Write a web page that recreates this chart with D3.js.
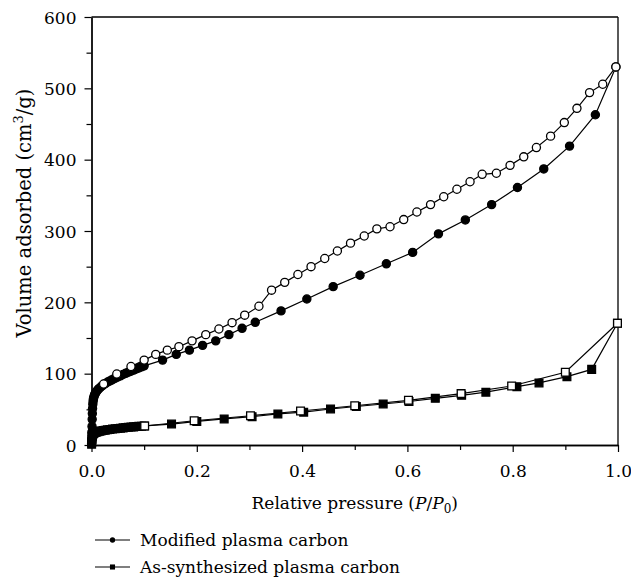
<!DOCTYPE html>
<html>
<head>
<meta charset="utf-8">
<script src="https://cdn.jsdelivr.net/npm/d3@7"></script>
<style>
  body { margin: 0; background: #fff; }
  svg text { font-family: 'DejaVu Serif', 'Liberation Serif', serif; fill: #000; }
</style>
</head>
<body>
<script>
// modified plasma carbon, adsorption branch (filled circles)
var modAdsX = [0.0002, 0.0005, 0.0008, 0.001, 0.0013, 0.0016, 0.002, 0.0025, 0.003, 0.0035, 0.004, 0.005, 0.006, 0.007, 0.008,
  0.01, 0.012, 0.014, 0.017, 0.02, 0.023, 0.026, 0.03, 0.034, 0.038, 0.042, 0.046, 0.05, 0.055, 0.06, 0.065, 0.07, 0.075,
  0.08, 0.085, 0.09, 0.095, 0.1, 0.135, 0.161, 0.186, 0.211, 0.236, 0.261, 0.286, 0.311, 0.36, 0.409, 0.459, 0.51, 0.56,
  0.61, 0.659, 0.71, 0.76, 0.809, 0.859, 0.908, 0.957, 0.996];
var modAdsY = [2, 8, 18, 26, 36, 44, 51, 57, 61, 64, 66, 68.5, 70.5, 72, 73.5,
  75.5, 77.5, 79, 81, 83, 84.5, 86, 88, 89.5, 91, 92.5, 94, 95.5, 97, 99, 100.5, 102, 103.5,
  105, 106.5, 108, 109.5, 111, 119, 127, 133, 139.7, 146, 154.7, 163.6, 172, 188, 204.7, 222, 238, 254,
  270, 296, 315.5, 337, 361, 387, 419, 463, 530];

// modified plasma carbon, desorption branch (open circles)
var modDesX = [0.996, 0.971, 0.946, 0.922, 0.898, 0.872, 0.845, 0.821, 0.795, 0.769, 0.742, 0.719, 0.694, 0.669, 0.644,
  0.618, 0.593, 0.567, 0.542, 0.518, 0.492, 0.467, 0.443, 0.417, 0.392, 0.367, 0.342, 0.318, 0.291, 0.267, 0.242,
  0.217, 0.191, 0.166, 0.144, 0.122, 0.1, 0.075, 0.048, 0.023];
var modDesY = [530, 505.7, 494, 472, 452, 433, 417, 404, 392, 381, 379.5, 369, 358.5, 348, 337,
  326.6, 316, 306, 303, 293, 283, 272, 261.5, 250, 239, 228, 217, 194.5, 182, 171.5, 162.6,
  154.7, 146, 137.8, 133, 127, 119, 110, 99.5, 85.5];

// as-synthesized plasma carbon, adsorption branch (filled squares)
var asAdsX = [0.0002, 0.0005, 0.0008, 0.001, 0.0013, 0.0017, 0.002, 0.003, 0.004, 0.005, 0.007, 0.009, 0.012, 0.015,
  0.018, 0.022, 0.026, 0.03, 0.035, 0.04, 0.045, 0.05, 0.055, 0.06, 0.065, 0.07, 0.075, 0.08, 0.085, 0.09, 0.095, 0.1,
  0.152, 0.2, 0.252, 0.305, 0.354, 0.403, 0.454, 0.503, 0.554, 0.603, 0.653, 0.703, 0.749, 0.808, 0.85, 0.903, 0.95, 0.999];
var asAdsY = [1, 4, 8, 10, 12, 13.5, 14.5, 15.5, 16.2, 16.8, 17.5, 18, 18.6, 19.2,
  19.7, 20.3, 20.8, 21.3, 21.8, 22.3, 22.8, 23.2, 23.6, 24, 24.4, 24.8, 25.1, 25.4, 25.8, 26.1, 26.4, 26.7,
  29.4, 33, 36.5, 39.7, 43.5, 46, 50.5, 54, 57.5, 61, 65.4, 69.6, 74, 81.8, 87, 95.8, 106, 170.6];

// as-synthesized plasma carbon, desorption branch (open squares)
var asDesX = [0.999, 0.9, 0.798, 0.702, 0.602, 0.5, 0.397, 0.302, 0.195, 0.101];
var asDesY = [170.6, 102, 82.7, 72, 62.6, 55, 47.7, 41, 34, 26.6];

var xTicks = [0, 0.2, 0.4, 0.6, 0.8, 1.0];
var yTicks = [0, 100, 200, 300, 400, 500, 600];
var legendNames = ['Modified plasma carbon', 'As-synthesized plasma carbon'];

(function() {
  var w = 631;
  var h = 577;
  var left = 91.5;
  var right = 618;
  var top = 17;
  var bottom = 445;

  var svg = d3
    .select('body')
    .append('svg')
    .attr('width', w)
    .attr('height', h);

  var xScale = d3.scaleLinear().domain([0, 1]).range([left, right]);
  var yScale = d3.scaleLinear().domain([0, 600]).range([bottom, top]);

  const zip = (xs, ys) => xs.map((x, i) => ({ x: x, y: ys[i] }));

  // axes, minor ticks drawn as separate tick-only axes
  var xAxis = d3.axisBottom(xScale).tickValues(xTicks).tickFormat(d3.format('.1f')).tickSize(7).tickSizeOuter(0);
  var xMinor = d3.axisBottom(xScale).tickValues(d3.range(0.1, 1, 0.2)).tickFormat('').tickSize(5).tickSizeOuter(0);
  var yAxis = d3.axisLeft(yScale).tickValues(yTicks).tickFormat(d3.format('d')).tickSize(7).tickSizeOuter(0);
  var yMinor = d3.axisLeft(yScale).tickValues(d3.range(50, 600, 100)).tickFormat('').tickSize(5).tickSizeOuter(0);

  svg.append('g').attr('transform', `translate(0,${bottom})`).call(xMinor);
  var gx = svg.append('g').attr('transform', `translate(0,${bottom})`).call(xAxis);
  svg.append('g').attr('transform', `translate(${left},0)`).call(yMinor);
  var gy = svg.append('g').attr('transform', `translate(${left},0)`).call(yAxis);

  svg.selectAll('.tick line').attr('stroke', '#000').attr('stroke-width', 1.2);
  svg.selectAll('.domain').attr('stroke', '#000').attr('stroke-width', 1.3);
  svg.selectAll('.tick text').attr('font-family', null).attr('font-size', null).style('font-size', '17px');
  gx.selectAll('.tick text').attr('dy', '1.3em');
  gy.selectAll('.tick text').attr('x', -15).attr('dy', '0.36em');

  // top and right frame lines
  svg.append('line').attr('x1', left).attr('x2', right).attr('y1', top).attr('y2', top)
    .attr('stroke', '#000').attr('stroke-width', 1.3);
  svg.append('line').attr('x1', right).attr('x2', right).attr('y1', top).attr('y2', bottom)
    .attr('stroke', '#000').attr('stroke-width', 1.3);

  var line = d3.line().x(d => xScale(d.x)).y(d => yScale(d.y));

  function drawSeries(data, shape, filled) {
    svg.append('path')
      .datum(data)
      .attr('d', line)
      .attr('fill', 'none')
      .attr('stroke', '#000')
      .attr('stroke-width', 1.2);

    var sym = d3.symbol().type(shape === 'circle' ? d3.symbolCircle : d3.symbolSquare)
      .size(shape === 'circle' ? 52 : 60);

    svg.append('g')
      .selectAll('path')
      .data(data)
      .enter()
      .append('path')
      .attr('transform', d => `translate(${xScale(d.x)},${yScale(d.y)})`)
      .attr('d', sym)
      .attr('fill', filled ? '#000' : '#fff')
      .attr('stroke', '#000')
      .attr('stroke-width', 1.3);
  }

  drawSeries(zip(asAdsX, asAdsY), 'square', true);
  drawSeries(zip(asDesX, asDesY), 'square', false);
  drawSeries(zip(modAdsX, modAdsY), 'circle', true);
  drawSeries(zip(modDesX, modDesY), 'circle', false);

  // axis titles
  var xTitle = svg.append('text')
    .attr('x', (left + right) / 2)
    .attr('y', 509)
    .attr('text-anchor', 'middle')
    .style('font-size', '17px');
  xTitle.append('tspan').text('Relative pressure (');
  xTitle.append('tspan').attr('font-style', 'italic').text('P');
  xTitle.append('tspan').text('/');
  xTitle.append('tspan').attr('font-style', 'italic').text('P');
  xTitle.append('tspan').style('font-size', '12px').attr('dy', 4).text('0');
  xTitle.append('tspan').attr('dy', -4).text(')');

  var yTitle = svg.append('text')
    .attr('transform', `translate(31,213) rotate(-90)`)
    .attr('text-anchor', 'middle')
    .style('font-size', '19.5px');
  yTitle.append('tspan').text('Volume adsorbed (cm');
  yTitle.append('tspan').style('font-size', '13px').attr('dy', -8).text('3');
  yTitle.append('tspan').attr('dy', 8).text('/g)');

  // legend
  var legend = svg.append('g');
  legendNames.forEach((name, i) => {
    var ly = 540 + i * 27;
    legend.append('line').attr('x1', 95).attr('x2', 130).attr('y1', ly).attr('y2', ly)
      .attr('stroke', '#000').attr('stroke-width', 1.2);
    legend.append('path')
      .attr('transform', `translate(112.5,${ly})`)
      .attr('d', d3.symbol().type(i === 0 ? d3.symbolCircle : d3.symbolSquare).size(i === 0 ? 22 : 26))
      .attr('fill', '#000');
    legend.append('text')
      .attr('x', 140)
      .attr('y', ly + 6)
      .style('font-size', '17px')
      .text(name);
  });
})();
</script>
</body>
</html>
